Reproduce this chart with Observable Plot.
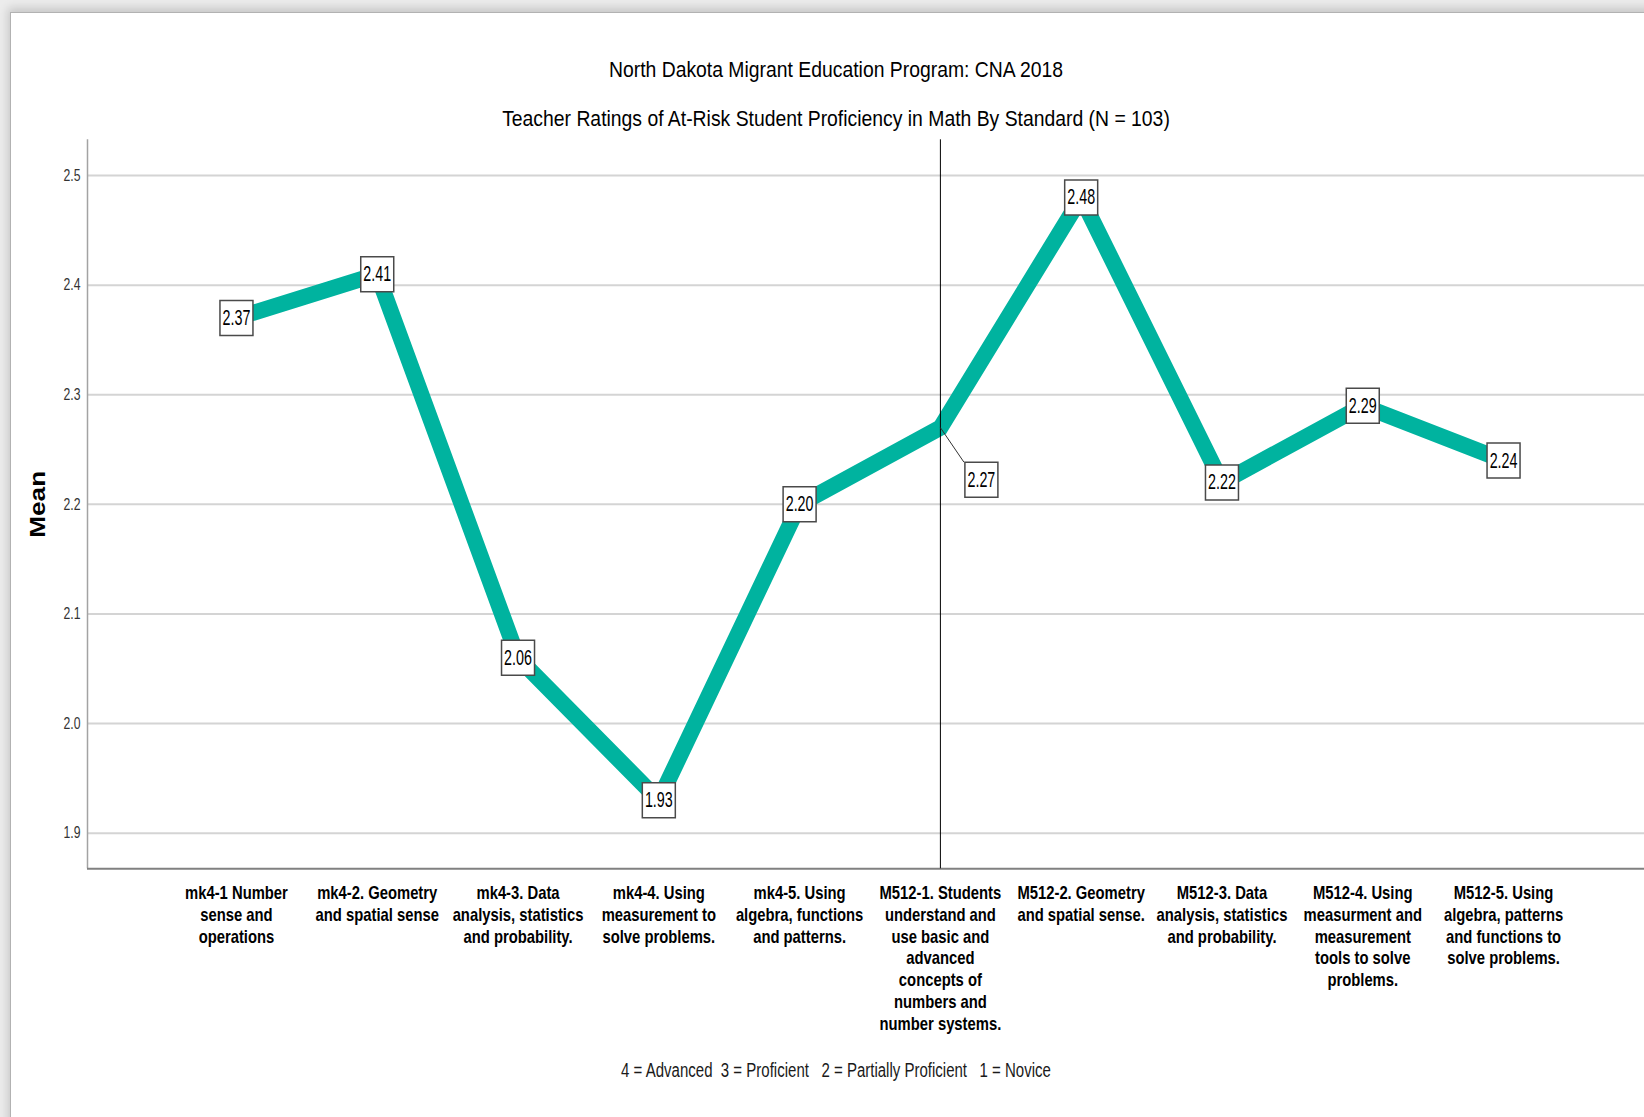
<!DOCTYPE html>
<html>
<head>
<meta charset="utf-8">
<script src="https://cdn.jsdelivr.net/npm/d3@7"></script>
<script src="https://cdn.jsdelivr.net/npm/@observablehq/plot@0.6"></script>
<style>
  html, body { margin: 0; padding: 0; width: 1644px; height: 1117px; overflow: hidden; background: #ececec; }
  #frame { position: absolute; left: 10px; top: 12px; width: 1700px; height: 1200px; background: #fff;
           border-left: 1px solid #b2b2b2; border-top: 1px solid #b2b2b2;
           box-shadow: -2px -4px 9px rgba(0,0,0,0.16); }
  #chart { position: absolute; left: 0; top: 0; }
  .txt { position: absolute; left: 0; width: 1672px; text-align: center; white-space: pre;
         font-family: "Liberation Sans", Arial, sans-serif; line-height: 1; color: #000;
         transform-origin: 836px 50%; }
</style>
</head>
<body>
<div id="frame"></div>
<div id="chart"></div>
<div class="txt" id="title1" style="top:59px;font-size:22px;transform:scaleX(0.88)"></div>
<div class="txt" id="title2" style="top:108px;font-size:22px;transform:scaleX(0.88)"></div>
<div class="txt" id="note" style="top:1061px;font-size:19.5px;color:#1a1a1a;transform:scaleX(0.77)"></div>
<script>
// Math standards (K-4 and grades 5-12), in display order
const categories = [
  "mk4-1 Number\nsense and\noperations",
  "mk4-2. Geometry\nand spatial sense",
  "mk4-3. Data\nanalysis, statistics\nand probability.",
  "mk4-4. Using\nmeasurement to\nsolve problems.",
  "mk4-5. Using\nalgebra, functions\nand patterns.",
  "M512-1. Students\nunderstand and\nuse basic and\nadvanced\nconcepts of\nnumbers and\nnumber systems.",
  "M512-2. Geometry\nand spatial sense.",
  "M512-3. Data\nanalysis, statistics\nand probability.",
  "M512-4. Using\nmeasurment and\nmeasurement\ntools to solve\nproblems.",
  "M512-5. Using\nalgebra, patterns\nand functions to\nsolve problems."
];

// Mean teacher rating per standard
const means = [2.37, 2.41, 2.06, 1.93, 2.20, 2.27, 2.48, 2.22, 2.29, 2.24];

// Value axis
const yTicks = [1.9, 2.0, 2.1, 2.2, 2.3, 2.4, 2.5];
const yTickLabels = ["1.9", "2.0", "2.1", "2.2", "2.3", "2.4", "2.5"];
const yDomain = [1.8675, 2.5326];

const titleText = "North Dakota Migrant Education Program: CNA 2018";
const subtitleText = "Teacher Ratings of At-Risk Student Proficiency in Math By Standard (N = 103)";
const scaleNote = "4 = Advanced  3 = Proficient   2 = Partially Proficient   1 = Novice";
const yLabel = "Mean";

document.getElementById("title1").textContent = titleText;
document.getElementById("title2").textContent = subtitleText;
document.getElementById("note").textContent = scaleNote;

const rows = categories.map((label, i) => ({i, label, mean: means[i]}));

const firstGrade512 = 5;   // the grades 5-12 block starts here (divider line)
const calloutIndex = 5;    // this value label sits off the line with a leader
const pad = 1.058;
const xDomain = [-pad, categories.length - 1 + pad];

const FONT = "Liberation Sans, Arial, sans-serif";
const TEAL = "#00b39f";

// value box drawn around each point label
const boxSymbol = {draw(ctx) { ctx.rect(-16.5, -17.5, 33, 35); }};
// leader from the point to the offset label box
const leaderSymbol = {draw(ctx) { ctx.moveTo(0, 0); ctx.lineTo(23.5, 34.5); }};

const inline = rows.filter(d => d.i !== calloutIndex);
const callout = rows.filter(d => d.i === calloutIndex);

const chart = Plot.plot({
  width: 1660,
  height: 1117,
  marginLeft: 87,
  marginRight: 8,
  marginTop: 139.3,
  marginBottom: 248.7,
  style: {background: "transparent", maxWidth: "none", overflow: "visible", fontFamily: FONT},
  x: {type: "linear", domain: xDomain, axis: null},
  y: {domain: yDomain, axis: null},
  marks: [
    Plot.ruleY(yTicks, {stroke: "#d4d4d4", strokeWidth: 2}),
    Plot.ruleX([xDomain[0]], {stroke: "#a3a3a3", strokeWidth: 1.5}),
    Plot.ruleY([yDomain[0]], {stroke: "#808080", strokeWidth: 2}),
    Plot.text(yTicks, {
      x: () => xDomain[0], y: d => d, text: (d, i) => yTickLabels[i],
      textAnchor: "end", dx: -7, fontSize: 16.3, fontFamily: FONT, fill: "#333",
      ariaDescription: "y-tick"
    }),
    Plot.line(rows, {
      x: "i", y: "mean", stroke: TEAL, strokeWidth: 16,
      strokeLinejoin: "miter", strokeMiterlimit: 10
    }),
    Plot.ruleX([firstGrade512], {stroke: "#000", strokeWidth: 1}),
    Plot.dot(callout, {x: "i", y: "mean", symbol: leaderSymbol, fill: "none", stroke: "#333", strokeWidth: 1}),
    Plot.dot(inline, {x: "i", y: "mean", symbol: boxSymbol, fill: "#fff", stroke: "#4a4a4a", strokeWidth: 1.5}),
    Plot.dot(callout, {x: "i", y: "mean", symbol: boxSymbol, fill: "#fff", stroke: "#4a4a4a", strokeWidth: 1.5, dx: 41, dy: 52}),
    Plot.text(inline, {
      x: "i", y: "mean", text: d => d.mean.toFixed(2),
      fontSize: 22, fontFamily: FONT, fill: "#000", ariaDescription: "value-label"
    }),
    Plot.text(callout, {
      x: "i", y: "mean", text: d => d.mean.toFixed(2), dx: 41, dy: 52,
      fontSize: 22, fontFamily: FONT, fill: "#000", ariaDescription: "value-label"
    }),
    Plot.text(rows, {
      x: "i", text: "label", frameAnchor: "bottom", textAnchor: "middle", lineAnchor: "top",
      dy: 14.7, lineHeight: 1.178, fontSize: 18.5, fontWeight: "bold", fontFamily: FONT,
      fill: "#000", ariaDescription: "category-label"
    }),
    Plot.text([yLabel], {
      frameAnchor: "left", textAnchor: "middle", lineAnchor: "middle", rotate: -90, dx: -49.3,
      fontSize: 22, fontWeight: "bold", fontFamily: FONT, fill: "#000", ariaDescription: "y-label"
    })
  ]
});

document.getElementById("chart").appendChild(chart);

// horizontal squeeze of text glyphs (condensed lettering)
function squeeze(label, s) {
  const groups = chart.querySelectorAll(`[aria-description="${label}"]`);
  groups.forEach(g => {
    const texts = g.tagName.toLowerCase() === "text" ? [g] : g.querySelectorAll("text");
    texts.forEach(t => {
      const tr = t.getAttribute("transform");
      if (tr) {
        t.setAttribute("transform", `${tr} scale(${s},1)`);
      } else {
        const x = +t.getAttribute("x") || 0, y = +t.getAttribute("y") || 0;
        t.removeAttribute("x"); t.removeAttribute("y");
        t.setAttribute("transform", `translate(${x},${y}) scale(${s},1)`);
      }
    });
  });
}
squeeze("value-label", 0.65);
squeeze("y-tick", 0.75);
squeeze("category-label", 0.8);
squeeze("y-label", 1.19);
</script>
</body>
</html>
